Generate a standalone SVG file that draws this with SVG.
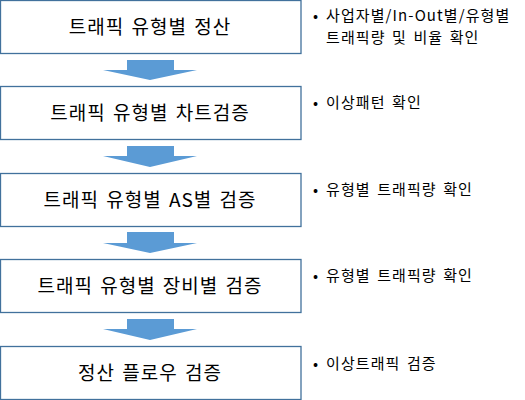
<svg xmlns="http://www.w3.org/2000/svg" width="525" height="400" viewBox="0 0 525 400">
<style>
.box{fill:#ffffff;stroke:#41719C;stroke-width:1.3}
.arrow{fill:#5B9BD5}
.t{font-family:"Noto Sans CJK KR","Noto Sans",sans-serif;font-size:19px;fill:#000;text-anchor:middle;letter-spacing:1px;word-spacing:2px}
.n{font-family:"Noto Sans CJK KR","Noto Sans",sans-serif;font-size:15px;fill:#000;letter-spacing:1.1px;word-spacing:2px}
</style>
<rect width="525" height="400" fill="#fff"/>
<g id="node1">
<rect class="box" x="0.5" y="0.5" width="300.5" height="53"/>
<text class="t" x="150" y="34">트래픽 유형별 정산</text>
</g>
<g id="node2">
<rect class="box" x="0.5" y="86.5" width="300.5" height="53"/>
<text class="t" x="150" y="120">트래픽 유형별 차트검증</text>
</g>
<g id="node3">
<rect class="box" x="0.5" y="173.5" width="300.5" height="53"/>
<text class="t" x="150" y="207">트래픽 유형별 AS별 검증</text>
</g>
<g id="node4">
<rect class="box" x="0.5" y="259.5" width="300.5" height="53"/>
<text class="t" x="150" y="293">트래픽 유형별 장비별 검증</text>
</g>
<g id="node5">
<rect class="box" x="0.5" y="346.5" width="300.5" height="53"/>
<text class="t" x="150" y="380">정산 플로우 검증</text>
</g>
<g id="notes">
<text class="n" x="313" y="20.5">•</text>
<text class="n" x="326" y="20.5">사업자별/In-Out별/유형별</text>
<text class="n" x="326" y="42.5">트래픽량 및 비율 확인</text>
<text class="n" x="313" y="108">•</text>
<text class="n" x="326" y="108">이상패턴 확인</text>
<text class="n" x="313" y="195">•</text>
<text class="n" x="326" y="195">유형별 트래픽량 확인</text>
<text class="n" x="313" y="281">•</text>
<text class="n" x="326" y="281">유형별 트래픽량 확인</text>
<text class="n" x="313" y="369">•</text>
<text class="n" x="326" y="369">이상트래픽 검증</text>
</g>
<g id="connectors">
<polygon class="arrow" points="127,60 174,60 174,70 197,70 150,80 103,70 127,70"/>
<polygon class="arrow" points="127,146 174,146 174,156 197,156 150,167 103,156 127,156"/>
<polygon class="arrow" points="127,232 174,232 174,243 197,243 150,253 103,243 127,243"/>
<polygon class="arrow" points="127,319 174,319 174,329 197,329 150,340 103,329 127,329"/>
</g>
</svg>
